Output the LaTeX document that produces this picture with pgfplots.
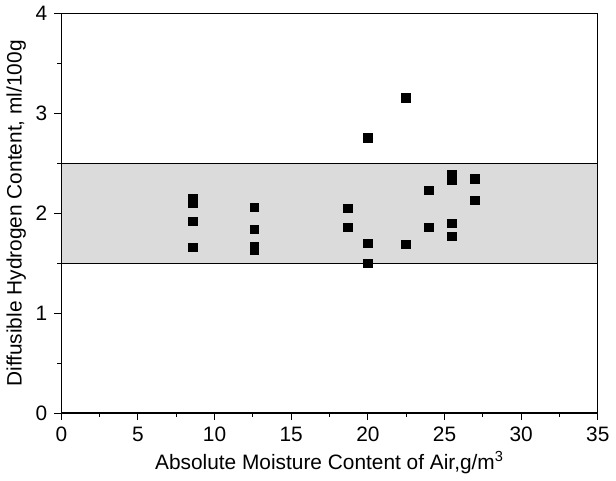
\documentclass[border=0pt]{standalone}
\usepackage{fontspec}
\setmainfont{Liberation Sans}
\usepackage{pgfplots}
\pgfplotsset{compat=1.18}

\begin{document}
\begin{tikzpicture}
\begin{axis}[
    scale only axis,
    width=270pt, height=201pt,
    xmin=0, xmax=35, ymin=0, ymax=4,
    xtick={0,5,...,35}, ytick={0,1,2,3,4},
    minor x tick num=1, minor y tick num=1,
    tick pos=left,
    tick align=outside,
    major tick length=3.5pt, minor tick length=2pt,
    axis line style={line width=0.7pt},
    every tick/.style={black, line width=0.5pt},
    /pgf/number format/assume math mode=true,
    ticklabel style={font=\fontsize{10.5}{12}\selectfont},
    xlabel={Absolute Moisture Content of Air,g/m\textsuperscript{3}},
    ylabel={Diffusible Hydrogen Content, ml/100g},
    label style={font=\fontsize{10.5}{12}\selectfont},
    xlabel style={yshift=2pt},
    ylabel style={yshift=-2pt},
    clip=false,
]
\addplot[fill=gray!28, draw=black, line width=0.6pt] coordinates {
    (0,1.5) (35,1.5) (35,2.5) (0,2.5)
} -- cycle;
\addplot[only marks, mark=square*, mark size=2.2pt, black] coordinates {
    (8.6,2.15) (8.6,2.10) (8.6,1.92) (8.6,1.66)
    (12.6,2.06) (12.6,1.84) (12.6,1.67) (12.6,1.63)
    (18.7,2.05) (18.7,1.86)
    (20,2.76) (20,1.70) (20,1.50)
    (22.5,3.16) (22.5,1.69)
    (24,2.23) (24,1.86)
    (25.5,2.39) (25.5,2.34) (25.5,1.90) (25.5,1.77)
    (27,2.35) (27,2.13)
};
\end{axis}
\end{tikzpicture}
\end{document}
